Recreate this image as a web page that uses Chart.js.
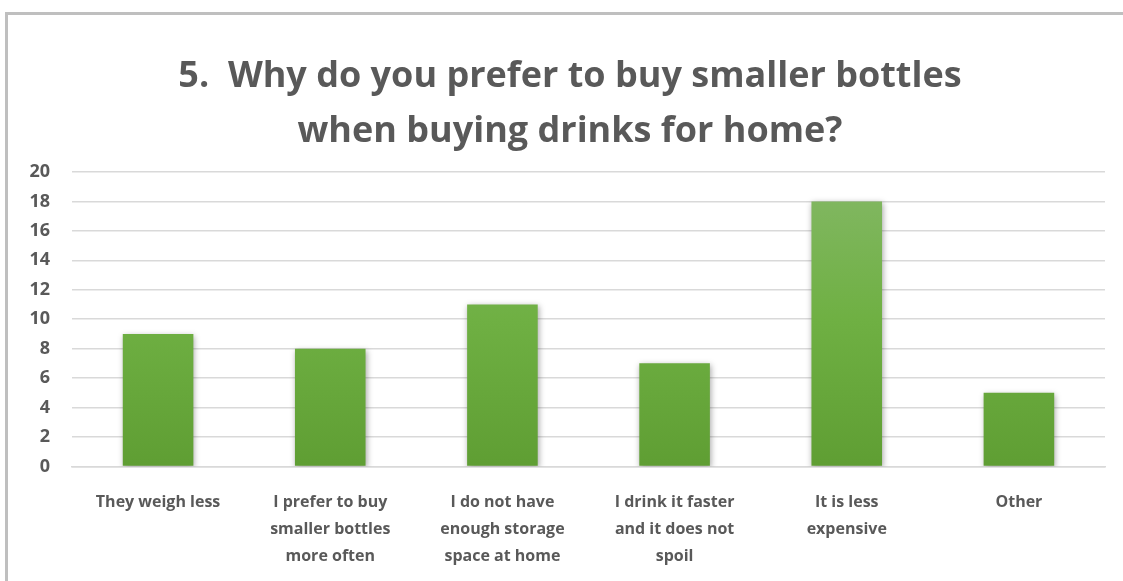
<!DOCTYPE html>
<html lang="en">
<head>
  <meta charset="UTF-8">
  <title>Smaller bottles survey</title>
  <style>
    body {
      margin: 0;
      background: #ffffff;
      overflow: hidden;
    }
    .frame {
      position: absolute;
      left: 5px;
      top: 12px;
      width: 1200px;
      height: 620px;
      border-top: 3px solid #bfbfbf;
      border-left: 3px solid #bfbfbf;
    }
    .chart-title {
      position: absolute;
      left: 0;
      top: 46px;
      width: 1140px;
      margin: 0;
      text-align: center;
      font-family: 'Open Sans', sans-serif;
      font-weight: bold;
      font-size: 36px;
      line-height: 55px;
      color: #595959;
    }
    .chart-box {
      position: relative;
      width: 1115px;
      height: 577px;
    }
  </style>
</head>
<body>
  <div class="frame">
    <div class="chart-box">
      <canvas id="bottles-chart"></canvas>
    </div>
  </div>
  <h1 class="chart-title" id="chart-title"></h1>

  <script src="https://cdn.jsdelivr.net/npm/chart.js"></script>
  <script>
    // Survey answers and counts
    const categories = [
      ['They weigh less'],
      ['I prefer to buy', 'smaller bottles', 'more often'],
      ['I do not have', 'enough storage', 'space at home'],
      ['I drink it faster', 'and it does not', 'spoil'],
      ['It is less', 'expensive'],
      ['Other']
    ];
    const counts = [9, 8, 11, 7, 18, 5];
    const yTicks = [0, 2, 4, 6, 8, 10, 12, 14, 16, 18, 20];
    const titleLines = ['5.\u00a0 Why do you prefer to buy smaller bottles', 'when buying drinks for home?'];

    const textGray = '#595959';

    // Two-line heading above the canvas
    const titleEl = document.getElementById('chart-title');
    titleLines.forEach((line, i) => {
      if (i > 0) titleEl.appendChild(document.createElement('br'));
      titleEl.appendChild(document.createTextNode(line));
    });

    // Vertical green gradient for the bars
    function barGradient(context) {
      const chart = context.chart;
      const area = chart.chartArea;
      if (!area) return '#70ad47';
      const g = chart.ctx.createLinearGradient(0, area.top, 0, area.bottom);
      g.addColorStop(0, '#84b866');
      g.addColorStop(0.5, '#6fb043');
      g.addColorStop(1, '#5f9e33');
      return g;
    }

    // Soft shadow under the bars
    const barShadow = {
      id: 'barShadow',
      beforeDatasetsDraw(chart) {
        const ctx = chart.ctx;
        ctx.save();
        ctx.shadowColor = 'rgba(0, 0, 0, 0.35)';
        ctx.shadowBlur = 6;
        ctx.shadowOffsetX = 1;
        ctx.shadowOffsetY = 2;
      },
      afterDatasetsDraw(chart) {
        chart.ctx.restore();
      }
    };

    const ctx = document.getElementById('bottles-chart').getContext('2d');
    new Chart(ctx, {
      type: 'bar',
      data: {
        labels: categories,
        datasets: [{
          data: counts,
          backgroundColor: barGradient,
          borderWidth: 0,
          barPercentage: 0.41,
          categoryPercentage: 1
        }]
      },
      plugins: [barShadow],
      options: {
        responsive: true,
        maintainAspectRatio: false,
        animation: false,
        layout: {
          padding: { top: 157, right: 18, left: 1, bottom: 0 }
        },
        plugins: {
          legend: { display: false },
          tooltip: { enabled: false },
          title: { display: false }
        },
        scales: {
          x: {
            grid: { display: false, drawTicks: false },
            border: { display: true, color: '#d9d9d9', width: 1.5 },
            ticks: {
              color: textGray,
              font: { family: 'Open Sans', size: 16, weight: 'bold', lineHeight: 1.7 },
              padding: 22,
              maxRotation: 0,
              autoSkip: false
            }
          },
          y: {
            min: 0,
            max: 20,
            afterBuildTicks(axis) {
              axis.ticks = yTicks.map(v => ({ value: v }));
            },
            afterFit(axis) {
              axis.width = 63;
            },
            grid: { color: '#d9d9d9', lineWidth: 1.5, drawTicks: false },
            border: { display: false },
            ticks: {
              color: textGray,
              font: { family: 'Open Sans', size: 18, weight: 'bold' },
              padding: 22
            }
          }
        }
      }
    });
  </script>
</body>
</html>
